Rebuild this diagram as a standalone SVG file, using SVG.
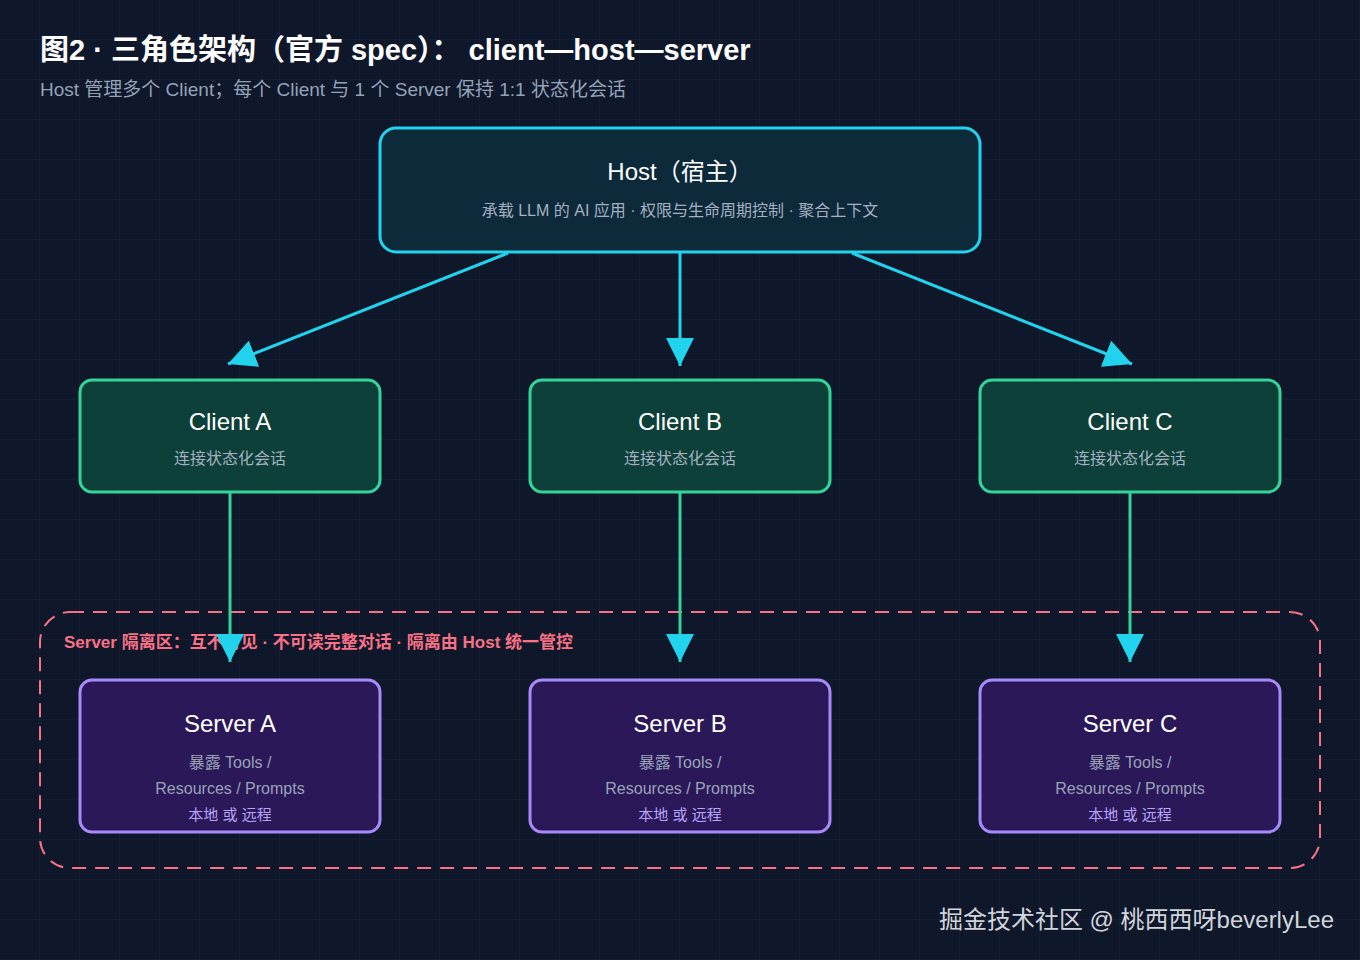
<svg xmlns="http://www.w3.org/2000/svg" width="1360" height="960" viewBox="0 0 1360 960">
<defs>
<pattern id="grid" width="40" height="40" patternUnits="userSpaceOnUse"><path d="M40 0V40H0" fill="none" stroke="#1a2436" stroke-width="1"/></pattern>
<marker id="ah" viewBox="0 0 10 10" refX="10" refY="5" markerWidth="28" markerHeight="28" markerUnits="userSpaceOnUse" orient="auto"><path d="M0 0L10 5L0 10z" fill="#22d3ee"/></marker>
</defs>
<style>
text{font-family:"Liberation Sans","Noto Sans CJK SC",sans-serif;text-anchor:middle}
.t{fill:#fff;font-size:24px}
.s{fill:#a5b1c2;font-size:16px}
.c{fill:#0c4038;stroke:#34d399;stroke-width:3}
.v{fill:#2a1858;stroke:#a78bfa;stroke-width:3}
.sv{fill:#9aa3b8;font-size:16px}
.sl{fill:#b9a4fa;font-size:15px}
</style>
<rect width="1360" height="960" fill="#0f172a"/>
<rect width="1360" height="960" fill="url(#grid)"/>
<text x="40" y="60" style="text-anchor:start;fill:#fff;font-size:29px;font-weight:bold">图2 · 三角色架构（官方 spec）： client—host—server</text>
<text x="40" y="96" style="text-anchor:start;fill:#94a3b8;font-size:19px">Host 管理多个 Client；每个 Client 与 1 个 Server 保持 1:1 状态化会话</text>
<rect x="40" y="612" width="1280" height="256" rx="30" fill="none" stroke="#f87185" stroke-width="2" stroke-dasharray="14 9"/>
<text x="64" y="648" style="text-anchor:start;fill:#f87185;font-size:17px;font-weight:bold">Server 隔离区：互不可见 · 不可读完整对话 · 隔离由 Host 统一管控</text>
<g id="host"><rect x="380" y="128" width="600" height="124" rx="16" fill="#0c2a3a" stroke="#22d3ee" stroke-width="3"/>
<text x="680" y="180" class="t">Host（宿主）</text><text x="680" y="216" class="s">承载 LLM 的 AI 应用 · 权限与生命周期控制 · 聚合上下文</text></g>
<g id="clientA"><rect x="80" y="380" width="300" height="112" rx="12" class="c"/><text x="230" y="430" class="t">Client A</text><text x="230" y="464" class="s">连接状态化会话</text></g>
<g id="clientB"><rect x="530" y="380" width="300" height="112" rx="12" class="c"/><text x="680" y="430" class="t">Client B</text><text x="680" y="464" class="s">连接状态化会话</text></g>
<g id="clientC"><rect x="980" y="380" width="300" height="112" rx="12" class="c"/><text x="1130" y="430" class="t">Client C</text><text x="1130" y="464" class="s">连接状态化会话</text></g>
<g id="serverA"><rect x="80" y="680" width="300" height="152" rx="12" class="v"/><text x="230" y="732" class="t">Server A</text><text x="230" y="768" class="sv">暴露 Tools /</text><text x="230" y="794" class="sv">Resources / Prompts</text><text x="230" y="820" class="sl">本地 或 远程</text></g>
<g id="serverB"><rect x="530" y="680" width="300" height="152" rx="12" class="v"/><text x="680" y="732" class="t">Server B</text><text x="680" y="768" class="sv">暴露 Tools /</text><text x="680" y="794" class="sv">Resources / Prompts</text><text x="680" y="820" class="sl">本地 或 远程</text></g>
<g id="serverC"><rect x="980" y="680" width="300" height="152" rx="12" class="v"/><text x="1130" y="732" class="t">Server C</text><text x="1130" y="768" class="sv">暴露 Tools /</text><text x="1130" y="794" class="sv">Resources / Prompts</text><text x="1130" y="820" class="sl">本地 或 远程</text></g>
<g id="connectors" fill="none" stroke-width="3" marker-end="url(#ah)">
<path d="M508 253L228 364" stroke="#22d3ee"/>
<path d="M680 253V366" stroke="#22d3ee"/>
<path d="M852 253L1132 364" stroke="#22d3ee"/>
<path d="M230 492V662" stroke="#34d399"/>
<path d="M680 492V662" stroke="#34d399"/>
<path d="M1130 492V662" stroke="#34d399"/>
</g>
<text x="1334" y="928" style="text-anchor:end;fill:#d1d5db;font-size:24px">掘金技术社区 @ 桃西西呀beverlyLee</text>
</svg>
